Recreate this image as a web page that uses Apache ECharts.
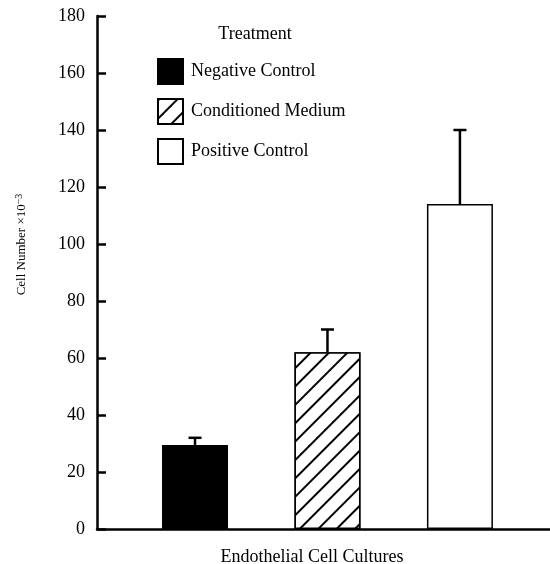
<!DOCTYPE html>
<html><head><meta charset="utf-8">
<script src="https://cdn.jsdelivr.net/npm/echarts@6/dist/echarts.min.js"></script>
<style>html,body{margin:0;padding:0;background:#fff}#c{width:550px;height:564px}</style>
</head><body><div id="c"></div>
<script>
var treatments = ['Negative Control', 'Conditioned Medium', 'Positive Control'];
var positions = [1, 2, 3];
var means = [29.5, 62, 114];
var errors = [2.5, 8, 26];
var yTicks = [0, 20, 40, 60, 80, 100, 120, 140, 160, 180];

var FONT = '"Liberation Serif", "Times New Roman", serif';
var styles = [
  {color: '#000', borderColor: '#000', borderWidth: 1.5},
  {color: '#fff', borderColor: '#000', borderWidth: 1.5,
   decal: {symbol: 'rect', symbolSize: 1, color: '#000', backgroundColor: '#fff',
           dashArrayX: [1, 0], dashArrayY: [1.3, 10.5], rotation: -Math.PI / 4}},
  {color: '#fff', borderColor: '#000', borderWidth: 1.5}
];

var series = treatments.map(function (name, i) {
  return {
    name: name, type: 'bar', stack: 'all', barWidth: 66,
    itemStyle: styles[i],
    data: [[positions[i], means[i]]],
    z: 2
  };
});
series.push({
  type: 'custom', name: 'err', z: 5,
  data: positions.map(function (p, i) { return [p, means[i], errors[i]]; }),
  renderItem: function (params, api) {
    var x = api.value(0), v = api.value(1), e = api.value(2);
    var p0 = api.coord([x, v]), p1 = api.coord([x, v + e]);
    var st = {stroke: '#000', lineWidth: 2.5};
    return {type: 'group', children: [
      {type: 'line', shape: {x1: p0[0], y1: p0[1], x2: p1[0], y2: p1[1]}, style: st},
      {type: 'line', shape: {x1: p1[0] - 6.5, y1: p1[1], x2: p1[0] + 6.5, y2: p1[1]}, style: st}
    ]};
  }
});

var chart = echarts.init(document.getElementById('c'), null, {renderer: 'canvas'});
chart.setOption({
  backgroundColor: '#fff',
  animation: false,
  title: {text: 'Treatment', left: 255, top: 25, textAlign: 'center', padding: 0,
          textStyle: {fontFamily: FONT, fontSize: 18, fontWeight: 'normal', color: '#000'}},
  legend: {
    data: treatments, orient: 'vertical', left: 157, top: 58, padding: 0,
    icon: 'rect', itemWidth: 25, itemHeight: 25, itemGap: 13,
    textStyle: {fontFamily: FONT, fontSize: 18, color: '#000', padding: [0, 0, 0, 3]},
    selectedMode: false
  },
  grid: {left: 97, right: 0, top: 16, bottom: 35, containLabel: false, outerBoundsMode: 'none'},
  xAxis: {
    type: 'value', min: 0.26, max: 3.68,
    axisLine: {show: true, onZero: true, lineStyle: {color: '#000', width: 2.5}},
    axisTick: {show: false}, axisLabel: {show: false}, splitLine: {show: false},
    name: 'Endothelial Cell Cultures', nameLocation: 'middle', nameGap: 19,
    nameTextStyle: {fontFamily: FONT, fontSize: 18, color: '#000', padding: [0, 23, 0, 0]}
  },
  yAxis: {
    type: 'value', min: yTicks[0], max: yTicks[yTicks.length - 1], interval: 20,
    axisLine: {show: true, lineStyle: {color: '#000', width: 2.5}},
    axisTick: {show: true, inside: true, length: 9, lineStyle: {color: '#000', width: 2.5}},
    axisLabel: {fontFamily: FONT, fontSize: 18, color: '#000', margin: 12},
    splitLine: {show: false},
    name: 'Cell Number \u00d710{sup|\u22123}', nameLocation: 'middle', nameRotate: 90, nameGap: 67,
    nameTextStyle: {fontFamily: FONT, fontSize: 13, color: '#000', padding: [0, 0, 0, 56],
      rich: {sup: {fontFamily: FONT, fontSize: 10, color: '#000', verticalAlign: 'top', padding: [0, 0, 6, 0]}}}
  },
  series: series
});
</script></body></html>
